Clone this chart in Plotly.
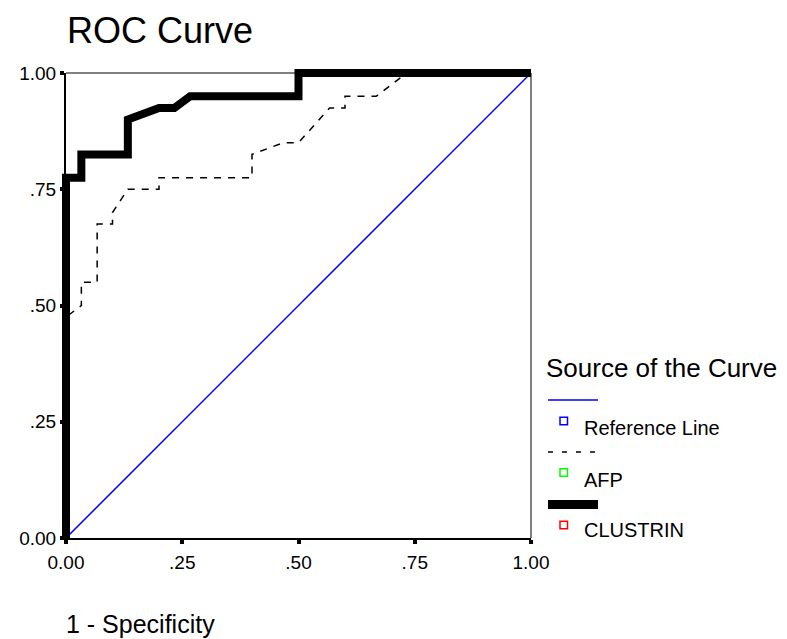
import plotly.graph_objects as go

# ---- data ----
ref_x = [0.0, 1.0]
ref_y = [0.0, 1.0]

afp_x = [0.0, 0.0, 0.033, 0.033, 0.067, 0.067, 0.100, 0.100, 0.133, 0.200, 0.200, 0.400, 0.400, 0.467, 0.500, 0.567, 0.600, 0.600, 0.667, 0.700, 0.733, 1.0]
afp_y = [0.0, 0.475, 0.500, 0.550, 0.550, 0.675, 0.675, 0.700, 0.750, 0.750, 0.775, 0.775, 0.825, 0.850, 0.850, 0.925, 0.925, 0.950, 0.950, 0.975, 1.000, 1.0]

clu_x = [0.0, 0.0, 0.033, 0.033, 0.133, 0.133, 0.200, 0.233, 0.267, 0.500, 0.500, 1.0]
clu_y = [0.0, 0.775, 0.775, 0.825, 0.825, 0.900, 0.925, 0.925, 0.950, 0.950, 1.000, 1.0]

tick_vals = [0.0, 0.25, 0.5, 0.75, 1.0]
tick_text = ["0.00", ".25", ".50", ".75", "1.00"]

series_names = ["Reference Line", "AFP", "CLUSTRIN"]
marker_colors = ["#0000ff", "#00ff00", "#ff0000"]

# ---- layout geometry (pixels) ----
W, H = 787, 639
PL, PR, PT, PB = 60, 537, 67, 544   # outer data area
PAD = 6
SPAN = PR - PL - 2 * PAD            # 465 px = 1 data unit
pad_u = PAD / SPAN

def px(xp):
    return (xp - PL) / (PR - PL)

def py(yp):
    return (PB - yp) / (PB - PT)

FONT = "Liberation Sans, Arial, sans-serif"

fig = go.Figure()
# empty trace to register the axis subplot
fig.add_trace(go.Scatter(x=[None], y=[None], xaxis="x2", yaxis="y2", mode="lines",
                         showlegend=False, hoverinfo="skip"))
fig.add_trace(go.Scatter(x=ref_x, y=ref_y, mode="lines",
                         line=dict(color="#0000ff", width=1.5), showlegend=False, hoverinfo="skip"))
fig.add_trace(go.Scatter(x=afp_x, y=afp_y, mode="lines",
                         line=dict(color="black", width=1.5, dash="7px,7px"), showlegend=False, hoverinfo="skip"))
fig.add_trace(go.Scatter(x=clu_x, y=clu_y, mode="lines",
                         line=dict(color="black", width=8), showlegend=False, hoverinfo="skip"))

inner = [PAD / (PR - PL), 1 - PAD / (PR - PL)]

fig.update_layout(
    width=W, height=H,
    margin=dict(l=PL, r=W - PR, t=PT, b=H - PB, pad=0),
    paper_bgcolor="white", plot_bgcolor="rgba(0,0,0,0)",
    showlegend=False,
    xaxis=dict(range=[-pad_u, 1 + pad_u], domain=[0, 1], visible=False, fixedrange=True),
    yaxis=dict(range=[-pad_u, 1 + pad_u], domain=[0, 1], visible=False, fixedrange=True),
    xaxis2=dict(range=[0, 1], domain=inner, anchor="y2", showgrid=False, zeroline=False,
                showline=True, linecolor="black", linewidth=2, fixedrange=True,
                ticks="outside", ticklen=4, tickwidth=4, tickcolor="black",
                tickvals=tick_vals, ticktext=tick_text, ticklabelstandoff=2,
                tickfont=dict(family=FONT, size=19, color="black")),
    yaxis2=dict(range=[0, 1], domain=inner, anchor="x2", showgrid=False, zeroline=False,
                showline=True, linecolor="black", linewidth=2, fixedrange=True,
                ticks="outside", ticklen=4, tickwidth=4, tickcolor="black",
                tickvals=tick_vals, ticktext=tick_text, ticklabelstandoff=0,
                tickfont=dict(family=FONT, size=19, color="black")),
)

# frame top/right thin lines
fig.add_shape(type="line", xref="paper", yref="paper", x0=px(66), x1=px(531), y0=py(73), y1=py(73),
              line=dict(color="black", width=1))
fig.add_shape(type="line", xref="paper", yref="paper", x0=px(531), x1=px(531), y0=py(73), y1=py(538),
              line=dict(color="black", width=1))

anns = []
anns.append(dict(text="ROC Curve", xref="paper", yref="paper", x=px(65), y=py(30),
                 xanchor="left", yanchor="middle", showarrow=False,
                 font=dict(family=FONT, size=36, color="black")))
anns.append(dict(text="1 - Specificity", xref="paper", yref="paper", x=px(64), y=py(624),
                 xanchor="left", yanchor="middle", showarrow=False,
                 font=dict(family=FONT, size=25, color="black")))
anns.append(dict(text="Source of the Curve", xref="paper", yref="paper", x=px(544), y=py(368),
                 xanchor="left", yanchor="middle", showarrow=False,
                 font=dict(family=FONT, size=26, color="black")))

# legend entries
line_y = [400, 452, 504.5]
sq_y = [421, 472.5, 525]
txt_y = [428, 480, 530]
line_styles = [dict(color="#0000ff", width=1.5),
               dict(color="black", width=1.5, dash="5px,9px"),
               dict(color="black", width=9)]
for i, name in enumerate(series_names):
    fig.add_shape(type="line", xref="paper", yref="paper", x0=px(548), x1=px(598),
                  y0=py(line_y[i]), y1=py(line_y[i]), line=line_styles[i])
    fig.add_shape(type="rect", xref="paper", yref="paper", x0=px(560), x1=px(567.5),
                  y0=py(sq_y[i] + 3.75), y1=py(sq_y[i] - 3.75),
                  line=dict(color=marker_colors[i], width=1.5), fillcolor="white")
    anns.append(dict(text=name, xref="paper", yref="paper", x=px(582), y=py(txt_y[i]),
                     xanchor="left", yanchor="middle", showarrow=False,
                     font=dict(family=FONT, size=20, color="black")))

fig.update_layout(annotations=anns)
fig.write_html("out.html", config={"displayModeBar": False},
               post_script="document.body.style.margin='0px';document.body.style.padding='0px';")
